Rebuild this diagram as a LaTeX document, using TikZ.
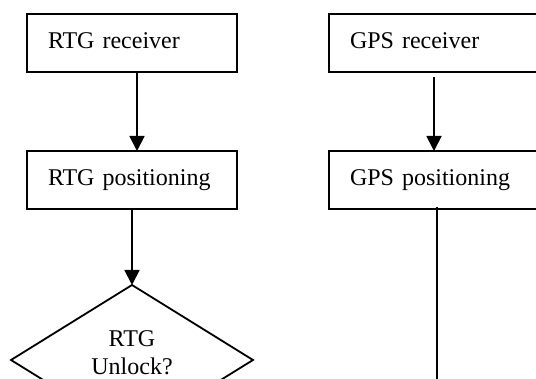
\documentclass[tikz,border=0pt]{standalone}
\usepackage{fontspec}
\setmainfont{Liberation Serif}
\usetikzlibrary{shapes.geometric,arrows.meta}
\begin{document}
\begin{tikzpicture}[x=1pt,y=-1pt,
  box/.style={draw,line width=1.8pt,rectangle,minimum width=210pt,minimum height=58pt,
    inner xsep=21pt,inner ysep=0pt,outer sep=0pt,text width=168pt,align=left,
    text height=16pt,text depth=5pt,font=\fontsize{24}{28}\selectfont},
  dia/.style={draw,line width=1.8pt,diamond,minimum width=242pt,minimum height=150pt,
    inner sep=0pt,outer sep=0pt},
  txt/.style={align=center,font=\fontsize{24}{28}\selectfont,inner sep=0pt},
  arr/.style={line width=1.8pt,-{Triangle[length=15pt,width=15pt]}},
  ln/.style={line width=1.8pt}]
\useasboundingbox (0,0) rectangle (536,379);
\clip (0,0) rectangle (536,379);
\node[box,anchor=north west] (r1) at (27,14) {RTG receiver};
\node[box,anchor=north west] (r2) at (27,151) {RTG positioning};
\node[dia] (d) at (132,360) {};
\node[txt] (dt) at ([yshift=7pt]d.center) {RTG\\Unlock?};
\node[box,anchor=north west] (g1) at (329,14) {GPS receiver};
\node[box,anchor=north west] (g2) at (329,151) {GPS positioning};
\coordinate (gend) at (437,420);
\draw[arr] ([xshift=5pt]r1.south) -- ([xshift=5pt]r2.north);
\draw[arr] (r2.south) -- (d.north);
\draw[arr] ([yshift=-5pt]g1.south) -- (g2.north);
\draw[ln] ([xshift=3pt,yshift=2pt]g2.south) -- (gend);
\end{tikzpicture}
\end{document}
